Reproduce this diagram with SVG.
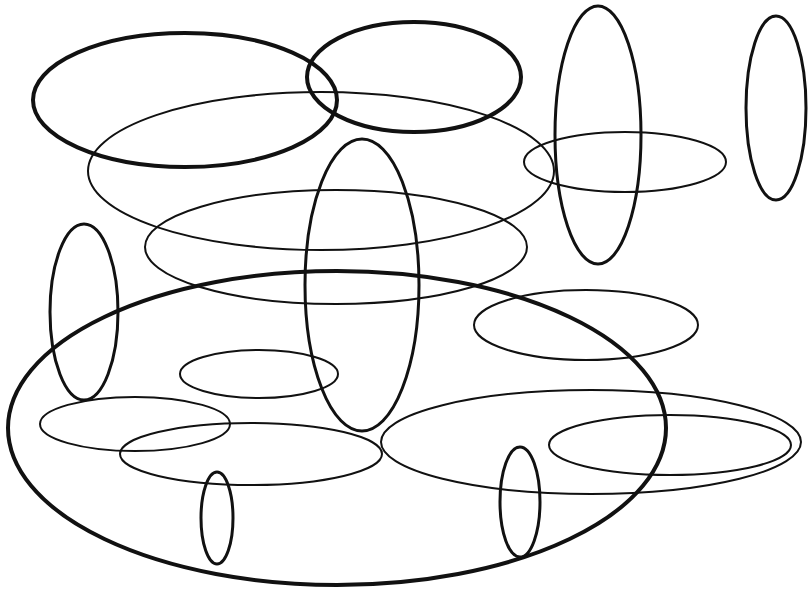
<svg xmlns="http://www.w3.org/2000/svg" width="808" height="593" viewBox="0 0 808 593">
<style>
ellipse{fill:none;stroke:#111}
.k{stroke-width:4}
.m{stroke-width:3}
.t{stroke-width:2}
</style>
<rect width="808" height="593" fill="#fff"/>
<g id="shapes">
<ellipse class="t" cx="321" cy="171" rx="233" ry="79"/>
<ellipse class="t" cx="336" cy="247" rx="191" ry="57"/>
<ellipse class="t" cx="625" cy="162" rx="101" ry="30"/>
<ellipse class="k" cx="185" cy="100" rx="152" ry="67"/>
<ellipse class="k" cx="414" cy="77" rx="107" ry="55" stroke-width="4.5"/>
<ellipse class="m" cx="598" cy="135" rx="43" ry="129"/>
<ellipse class="m" cx="776" cy="108" rx="30" ry="92"/>
<ellipse class="m" cx="362" cy="285" rx="57" ry="146"/>
<ellipse class="m" cx="84" cy="312" rx="34" ry="88"/>
<ellipse class="k" cx="337" cy="428" rx="329" ry="157"/>
<ellipse class="t" cx="586" cy="325" rx="112" ry="35"/>
<ellipse class="t" cx="259" cy="374" rx="79" ry="24"/>
<ellipse class="t" cx="135" cy="424" rx="95" ry="27"/>
<ellipse class="t" cx="251" cy="454" rx="131" ry="31"/>
<ellipse class="t" cx="591" cy="442" rx="210" ry="52"/>
<ellipse class="t" cx="670" cy="445" rx="121" ry="30"/>
<ellipse class="m" cx="217" cy="518" rx="16" ry="46"/>
<ellipse class="m" cx="520" cy="502" rx="20" ry="55"/>
</g>
</svg>
